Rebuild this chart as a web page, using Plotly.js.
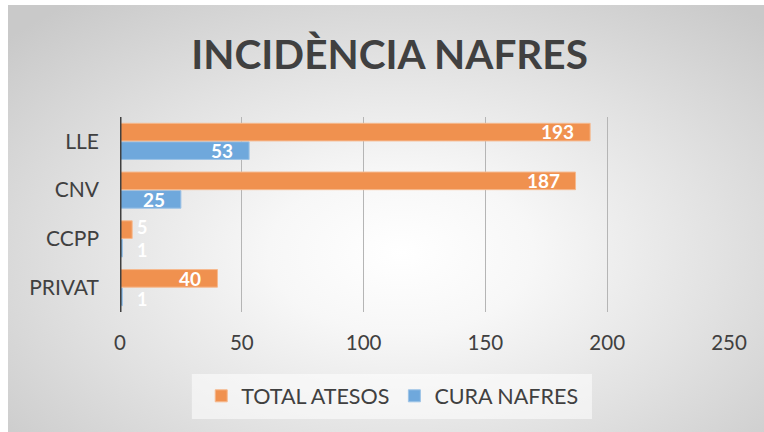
<!DOCTYPE html>
<html>
<head>
<meta charset="utf-8">
<script src="https://cdn.plot.ly/plotly-3.0.1.min.js"></script>
<style>
html,body{margin:0;padding:0;background:#ffffff;}
#wrap{position:relative;width:764px;height:432px;}
#bg{position:absolute;left:8px;top:5px;width:756px;height:427px;
 background:radial-gradient(ellipse 70% 75% at 52% 58%, #ffffff 0%, #f7f7f7 25%, #e2e2e2 60%, #c9c9c9 100%);}
#chart{position:absolute;left:0;top:0;width:764px;height:432px;}
</style>
</head>
<body>
<div id="wrap"><div id="bg"></div><div id="chart"></div></div>
<script>
const categories = ["PRIVAT", "CCPP", "CNV", "LLE"];
const totalAtesos = [40, 5, 187, 193];
const curaNafres = [1, 1, 25, 53];
const seriesNames = ["TOTAL ATESOS", "CURA NAFRES"];
const xTicks = [0, 50, 100, 150, 200, 250];

const FONT = "Lato, 'Open Sans', sans-serif";
const DARK = "#404040";

const traceCura = {
  type: "bar", orientation: "h", name: seriesNames[1],
  y: categories, x: curaNafres,
  marker: {color: "#6FA8DC", line: {color: "#9DC3E6", width: 1}},
  legendrank: 2, hoverinfo: "none"
};
const traceTotal = {
  type: "bar", orientation: "h", name: seriesNames[0],
  y: categories, x: totalAtesos,
  marker: {color: "#F0914F", line: {color: "#F6B98E", width: 1}},
  legendrank: 1, hoverinfo: "none"
};

// data labels: inside end for long bars, near the axis for short ones
function labels(vals, dir){
  return vals.map((v, i) => {
    const fits = v >= 20;
    return {
      x: fits ? v : 0, y: categories[i], xref: "x", yref: "y",
      text: String(v), showarrow: false,
      xanchor: fits ? "right" : "left", xshift: fits ? -15 : 16,
      yanchor: "middle", yshift: dir * (fits ? 9.6 : 11.5),
      font: {family: FONT, size: fits ? 19 : 18, color: "#ffffff", weight: 700},
      borderpad: 0
    };
  });
}

const layout = {
  width: 764, height: 432,
  margin: {l: 120, r: 35, t: 117, b: 120},
  paper_bgcolor: "rgba(0,0,0,0)", plot_bgcolor: "rgba(0,0,0,0)",
  font: {family: FONT, color: DARK, size: 20},
  title: {text: "INCIDÈNCIA NAFRES", font: {family: FONT, size: 40.5, color: DARK, weight: 700},
          x: 0.51, xanchor: "center", y: 0.872, yanchor: "middle"},
  barmode: "group", bargap: 0.24, bargroupgap: 0.05,
  showlegend: true,
  legend: {orientation: "h", x: 0.447, xanchor: "center", y: -0.43, yanchor: "middle",
           bgcolor: "rgba(0,0,0,0)", font: {family: FONT, size: 21.5, color: DARK},
           traceorder: "normal", itemwidth: 30},
  xaxis: {range: [0, 250], tickvals: xTicks, showgrid: true, gridcolor: "#b5b5b5", gridwidth: 1,
          zeroline: false, showline: false, ticks: "", tickfont: {family: FONT, size: 20.5, color: DARK},
          ticklabelstandoff: 16, fixedrange: true},
  yaxis: {type: "category", range: [-0.5, 3.5], showgrid: false, zeroline: false,
          showline: false, ticks: "", ticklabelstandoff: 20,
          tickfont: {family: FONT, size: 21, color: DARK}, fixedrange: true},
  annotations: labels(totalAtesos, 1).concat(labels(curaNafres, -1)),
  shapes: [
    {type: "rect", xref: "paper", yref: "paper", x0: 0.118, x1: 0.775, y0: -0.549, y1: -0.318,
     fillcolor: "rgba(255,255,255,0.55)", line: {width: 0}, layer: "below"},
    {type: "line", xref: "x", yref: "paper", x0: 0, x1: 0, y0: 0, y1: 1,
     line: {color: DARK, width: 3}, layer: "above"}
  ]
};

Plotly.newPlot("chart", [traceCura, traceTotal], layout, {displayModeBar: false, staticPlot: true});
</script>
</body>
</html>
